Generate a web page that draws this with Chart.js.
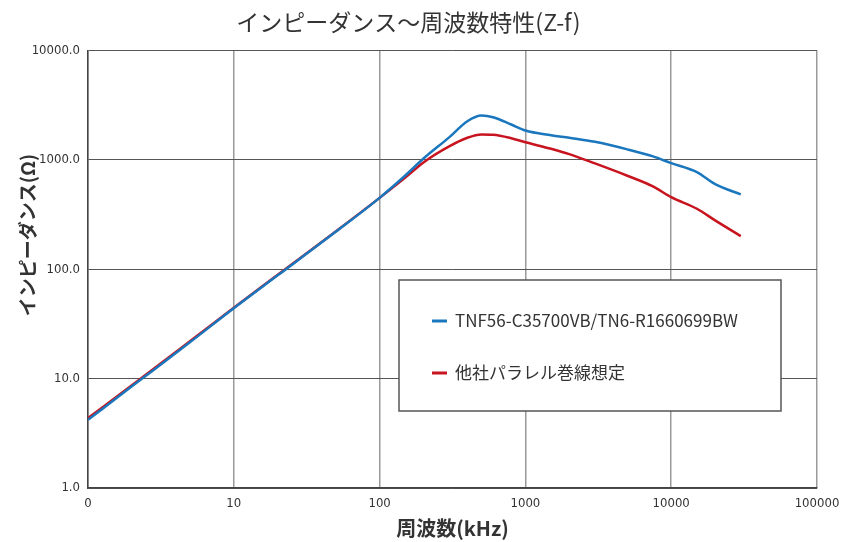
<!DOCTYPE html>
<html lang="ja">
<head>
<meta charset="utf-8">
<title>インピーダンス～周波数特性(Z-f)</title>
<script src="https://cdn.jsdelivr.net/npm/chart.js@4.4.1/dist/chart.umd.min.js"></script>
<style>
  html, body { margin: 0; padding: 0; background: #fff; }
  #wrap { width: 844px; height: 542px; }
</style>
</head>
<body>
<div id="wrap"><canvas id="zfChart" width="844" height="542"></canvas></div>
<script>
// frequency points (kHz) shared by both curves
const freqKHz = [1, 2, 5, 10, 20, 50, 100, 150, 200, 300, 400, 500, 600, 800,
  1000, 1500, 2000, 3000, 5000, 7500, 10000, 15000, 20000, 30000];

// impedance (ohm)
const zTnf = [4.2, 8.5, 21.5, 44, 88, 220, 450, 720, 1030, 1610, 2260, 2550, 2460, 2110,
  1860, 1685, 1595, 1465, 1250, 1077, 935, 774, 601, 484];
const zOther = [4.35, 8.7, 22, 44.5, 89, 222, 450, 690, 950, 1330, 1595, 1710, 1700, 1580,
  1450, 1265, 1130, 929, 717, 573, 457, 358, 280, 201];

const seriesNames = ["TNF56-C35700VB/TN6-R1660699BW", "他社パラレル巻線想定"];
const seriesColors = ["#1a76bd", "#c8141f"];

const xTicks = [1, 10, 100, 1000, 10000, 100000];
const xTickLabels = ["0", "10", "100", "1000", "10000", "100000"];
const yTicks = [1, 10, 100, 1000, 10000];

function toPoints(values) {
  return freqKHz.map((f, i) => ({ x: f, y: values[i] }));
}

const tickFont = { family: "'DejaVu Sans Condensed', 'Liberation Sans Narrow', sans-serif", size: 13 };
const jpFont = "'Noto Sans CJK JP', 'Noto Sans', sans-serif";

// legend panel drawn inside the plot, plus the rotated y-axis caption
const legendBox = {
  id: "legendBox",
  afterDraw(chart) {
    const ctx = chart.ctx;
    ctx.save();
    ctx.fillStyle = "#fff";
    ctx.fillRect(399, 280, 382, 131);
    ctx.strokeStyle = "#555";
    ctx.lineWidth = 1.5;
    ctx.strokeRect(399, 280, 382, 131);
    ctx.font = "17px " + jpFont;
    ctx.textBaseline = "middle";
    chart.data.datasets.forEach((ds, i) => {
      const y = 321 + i * 52;
      ctx.strokeStyle = ds.borderColor;
      ctx.lineWidth = 3;
      ctx.beginPath();
      ctx.moveTo(432, y);
      ctx.lineTo(447, y);
      ctx.stroke();
      ctx.fillStyle = "#333";
      ctx.fillText(ds.label, 455, y);
    });
    ctx.restore();

    ctx.save();
    ctx.translate(28, 235);
    ctx.rotate(-Math.PI / 2);
    ctx.font = "bold 19px " + jpFont;
    ctx.fillStyle = "#333";
    ctx.textAlign = "center";
    ctx.textBaseline = "middle";
    ctx.fillText("インピーダンス(Ω)", 0, 0);
    ctx.restore();
  }
};

const ctx = document.getElementById("zfChart").getContext("2d");
const zfChart = new Chart(ctx, {
  type: "line",
  data: {
    datasets: [
      {
        label: seriesNames[0],
        data: toPoints(zTnf),
        borderColor: seriesColors[0],
        borderWidth: 2.5,
        pointRadius: 0,
        cubicInterpolationMode: "monotone",
        order: 1,
      },
      {
        label: seriesNames[1],
        data: toPoints(zOther),
        borderColor: seriesColors[1],
        borderWidth: 2.5,
        pointRadius: 0,
        cubicInterpolationMode: "monotone",
        order: 2,
      },
    ],
  },
  options: {
    responsive: false,
    animation: false,
    layout: { padding: { left: 0, right: 27, top: 0, bottom: 0 } },
    plugins: {
      legend: { display: false },
      tooltip: { enabled: false },
      title: {
        display: true,
        text: "インピーダンス～周波数特性(Z-f)",
        color: "#333",
        font: { family: jpFont, size: 23, weight: "normal" },
        padding: { top: 8, bottom: 15 },
      },
    },
    scales: {
      x: {
        type: "logarithmic",
        min: 1,
        max: 100000,
        afterBuildTicks(scale) {
          scale.ticks = xTicks.map((v) => ({ value: v }));
        },
        afterFit(scale) {
          scale.height = 54;
          scale.paddingRight = 0;
        },
        ticks: {
          autoSkip: false,
          maxRotation: 0,
          padding: 8,
          color: "#333",
          font: tickFont,
          callback: (value) => xTickLabels[xTicks.indexOf(value)],
        },
        grid: { color: "#9a9a9a", lineWidth: 1.5, drawTicks: false },
        border: { color: "#444", width: 1.5 },
        title: {
          display: true,
          text: "周波数(kHz)",
          color: "#333",
          font: { family: jpFont, size: 20, weight: "bold" },
          padding: { top: 0, bottom: 2 },
        },
      },
      y: {
        type: "logarithmic",
        min: 1,
        max: 10000,
        afterBuildTicks(scale) {
          scale.ticks = yTicks.map((v) => ({ value: v }));
        },
        afterFit(scale) {
          scale.width = 88;
        },
        ticks: {
          autoSkip: false,
          padding: 8,
          color: "#333",
          font: tickFont,
          callback: (value) => value.toFixed(1),
        },
        grid: { color: "#555", lineWidth: 1, drawTicks: false },
        border: { color: "#444", width: 1.5 },
      },
    },
  },
  plugins: [legendBox],
});
</script>
</body>
</html>
